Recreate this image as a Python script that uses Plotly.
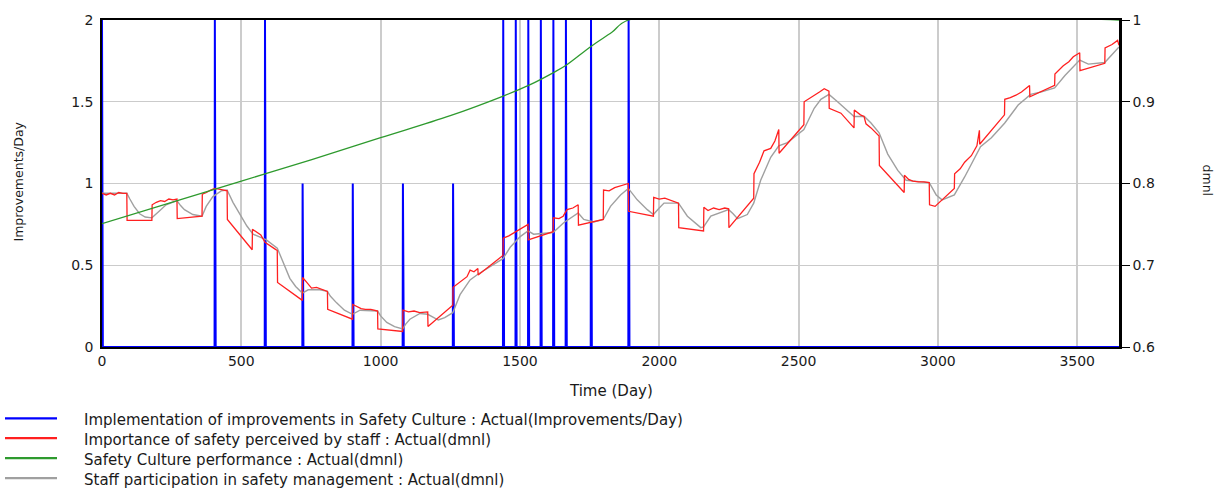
import plotly.graph_objects as go

# ---------------------------------------------------------------- data
horizon_days = 3650

# Implementation of improvements in Safety Culture (Improvements/Day):
# days on which improvements are implemented and how many
impl_days = [0, 405, 585, 720, 900, 1080, 1260, 1440, 1485, 1530, 1575, 1620, 1665, 1755, 1890]
impl_counts = [2, 2, 2, 1, 1, 1, 1, 2, 2, 2, 2, 2, 2, 2, 2]

# Importance of safety perceived by staff (dmnl)
perceived_days = [
    0, 15, 30, 45, 60, 75, 89, 90, 179, 180, 195, 210, 225, 240, 255, 269, 270, 359, 360, 375,
    390, 405, 420, 440, 449, 450, 539, 540, 555, 570, 585, 600, 620, 629, 630, 719, 720, 735, 752, 770,
    790, 809, 810, 899, 900, 915, 930, 945, 965, 989, 990, 1079, 1080, 1100, 1120, 1140, 1169, 1170, 1259, 1260,
    1280, 1297, 1310, 1321, 1335, 1349, 1350, 1439, 1440, 1460, 1480, 1500, 1529, 1530, 1619, 1620, 1640, 1655, 1669, 1690,
    1709, 1710, 1799, 1800, 1820, 1840, 1860, 1889, 1890, 1979, 1980, 2000, 2020, 2045, 2069, 2070, 2159, 2160, 2175, 2195,
    2215, 2235, 2249, 2250, 2339, 2340, 2360, 2376, 2400, 2415, 2429, 2430, 2519, 2520, 2540, 2560, 2575, 2592, 2609, 2610,
    2652, 2699, 2700, 2722, 2735, 2742, 2760, 2789, 2790, 2879, 2880, 2895, 2910, 2930, 2950, 2969, 2970, 2990, 3059, 3060,
    3080, 3096, 3120, 3140, 3149, 3150, 3239, 3240, 3260, 3280, 3300, 3329, 3330, 3419, 3420, 3450, 3470, 3486, 3509, 3510,
    3599, 3600, 3625, 3645, 3650,
]
perceived_values = [
    0.788, 0.786, 0.788, 0.786, 0.789, 0.788, 0.788, 0.755, 0.755, 0.774, 0.777, 0.779, 0.778, 0.781, 0.780, 0.781, 0.757, 0.760, 0.787, 0.789,
    0.792, 0.794, 0.793, 0.792, 0.791, 0.756, 0.719, 0.744, 0.741, 0.737, 0.728, 0.725, 0.720, 0.718, 0.679, 0.657, 0.685, 0.679, 0.672, 0.673,
    0.670, 0.668, 0.646, 0.634, 0.652, 0.649, 0.647, 0.646, 0.646, 0.644, 0.622, 0.619, 0.645, 0.643, 0.644, 0.642, 0.643, 0.625, 0.651, 0.673,
    0.678, 0.682, 0.686, 0.694, 0.692, 0.696, 0.688, 0.712, 0.733, 0.736, 0.740, 0.744, 0.750, 0.731, 0.741, 0.758, 0.757, 0.760, 0.768, 0.770,
    0.774, 0.749, 0.756, 0.792, 0.791, 0.795, 0.797, 0.800, 0.766, 0.760, 0.783, 0.781, 0.782, 0.779, 0.776, 0.746, 0.742, 0.771, 0.767, 0.770,
    0.768, 0.770, 0.769, 0.746, 0.782, 0.812, 0.826, 0.840, 0.843, 0.852, 0.866, 0.837, 0.872, 0.900, 0.904, 0.908, 0.912, 0.916, 0.913, 0.892,
    0.886, 0.868, 0.890, 0.884, 0.882, 0.873, 0.868, 0.858, 0.822, 0.789, 0.810, 0.805, 0.803, 0.802, 0.802, 0.801, 0.774, 0.772, 0.794, 0.812,
    0.818, 0.826, 0.834, 0.846, 0.865, 0.848, 0.884, 0.903, 0.905, 0.908, 0.912, 0.920, 0.906, 0.920, 0.934, 0.944, 0.949, 0.955, 0.960, 0.938,
    0.947, 0.966, 0.970, 0.975, 0.969,
]

# Safety Culture performance (dmnl)
performance_days = [0, 250, 500, 750, 1000, 1250, 1440, 1531, 1622, 1667, 1756, 1830, 1890, 3650]
performance_values = [0.751, 0.777, 0.803, 0.829, 0.856, 0.883, 0.907, 0.920, 0.936, 0.945, 0.968, 0.985, 1.0, 1.0]

# Staff participation in safety management (dmnl)
participation_days = [
    0, 89, 100, 115, 135, 155, 179, 190, 205, 230, 250, 269, 282, 296, 326, 359, 374, 398, 428, 449,
    470, 493, 520, 542, 590, 629, 640, 650, 674, 695, 719, 740, 782, 809, 820, 842, 870, 899, 926, 989,
    1000, 1022, 1050, 1079, 1090, 1105, 1141, 1169, 1190, 1207, 1230, 1259, 1285, 1321, 1349, 1390, 1439, 1465, 1501, 1529,
    1549, 1619, 1640, 1657, 1709, 1729, 1765, 1799, 1825, 1861, 1889, 1921, 1957, 1979, 2000, 2017, 2069, 2080, 2101, 2149,
    2159, 2185, 2249, 2265, 2281, 2316, 2339, 2364, 2400, 2429, 2460, 2519, 2556, 2580, 2609, 2640, 2699, 2736, 2760, 2789,
    2820, 2856, 2886, 2940, 2969, 2994, 3015, 3059, 3096, 3153, 3192, 3240, 3288, 3333, 3372, 3419, 3456, 3509, 3540, 3599,
    3650,
]
participation_values = [
    0.788, 0.788, 0.781, 0.772, 0.763, 0.759, 0.758, 0.761, 0.766, 0.774, 0.777, 0.779, 0.773, 0.768, 0.762, 0.760, 0.772, 0.784, 0.791, 0.792,
    0.777, 0.764, 0.748, 0.738, 0.731, 0.721, 0.712, 0.702, 0.684, 0.674, 0.666, 0.670, 0.670, 0.668, 0.662, 0.654, 0.645, 0.640, 0.645, 0.644,
    0.638, 0.630, 0.625, 0.622, 0.628, 0.634, 0.641, 0.640, 0.636, 0.633, 0.636, 0.642, 0.664, 0.682, 0.689, 0.698, 0.708, 0.722, 0.735, 0.742,
    0.738, 0.740, 0.746, 0.752, 0.764, 0.756, 0.753, 0.756, 0.772, 0.786, 0.794, 0.780, 0.768, 0.762, 0.770, 0.776, 0.776, 0.770, 0.760, 0.746,
    0.747, 0.760, 0.768, 0.763, 0.757, 0.762, 0.776, 0.804, 0.832, 0.846, 0.850, 0.866, 0.892, 0.903, 0.909, 0.900, 0.882, 0.882, 0.874, 0.862,
    0.836, 0.816, 0.804, 0.802, 0.801, 0.786, 0.780, 0.786, 0.808, 0.845, 0.856, 0.874, 0.896, 0.909, 0.912, 0.917, 0.932, 0.951, 0.946, 0.948,
    0.967,
]

series_names = [
    "Implementation of improvements in Safety Culture : Actual(Improvements/Day)",
    "Importance of safety perceived by staff : Actual(dmnl)",
    "Safety Culture performance : Actual(dmnl)",
    "Staff participation in safety management : Actual(dmnl)",
]
series_colors = ["#0000ff", "#ff2020", "#2e9a2e", "#a0a0a0"]

left_ticks = [0, 0.5, 1, 1.5, 2]
right_ticks = [0.6, 0.7, 0.8, 0.9, 1]
time_ticks = [0, 500, 1000, 1500, 2000, 2500, 3000, 3500]

# ---------------------------------------------------------------- layout geometry
W, H = 1220, 490
ML, MR, MT, MB = 102, 101, 13, 143
PW, PH = W - ML - MR, H - MT - MB
FONT = "DejaVu Sans"
TXT = "#1a1a1a"


def xp(px):
    return (px - ML) / PW


def yp(py):
    return (H - MB - py) / PH


# daily series of implemented improvements
impl_x = list(range(horizon_days + 1))
impl_y = [0] * (horizon_days + 1)
for d, c in zip(impl_days, impl_counts):
    impl_y[d] = c

fig = go.Figure()

fig.add_trace(go.Scatter(
    x=participation_days, y=participation_values, yaxis="y2", mode="lines",
    line=dict(color=series_colors[3], width=1.4), name=series_names[3], showlegend=False,
))
fig.add_trace(go.Scatter(
    x=perceived_days, y=perceived_values, yaxis="y2", mode="lines",
    line=dict(color=series_colors[1], width=1.3), name=series_names[1], showlegend=False,
))
fig.add_trace(go.Scatter(
    x=performance_days, y=performance_values, yaxis="y2", mode="lines", line_shape="spline",
    line=dict(color=series_colors[2], width=1.3), name=series_names[2], showlegend=False,
))
fig.add_trace(go.Scatter(
    x=impl_x, y=impl_y, mode="lines",
    line=dict(color=series_colors[0], width=2.0), name=series_names[0], showlegend=False,
))

axis_font = dict(family=FONT, size=14, color=TXT)

fig.update_layout(
    width=W, height=H,
    margin=dict(l=ML, r=MR, t=MT, b=MB, pad=0),
    paper_bgcolor="white", plot_bgcolor="white",
    xaxis=dict(
        range=[0, horizon_days], tickvals=time_ticks, ticks="", showgrid=True,
        gridcolor="#cccccc", gridwidth=1.6, zeroline=False,
        showline=True, linecolor="black", linewidth=1.5, mirror=True, layer="below traces",
        tickfont=axis_font, ticklabelstandoff=0,
    ),
    yaxis=dict(
        range=[0, 2], tickvals=left_ticks, ticks="", showgrid=True,
        gridcolor="#cbcbcb", gridwidth=1.3, zeroline=False,
        showline=True, linecolor="black", linewidth=1.5, layer="below traces",
        tickfont=axis_font, ticklabelstandoff=4,
    ),
    yaxis2=dict(
        range=[0.6, 1], tickvals=right_ticks, overlaying="y", side="right",
        showgrid=False, zeroline=False, showline=True, linecolor="black", linewidth=2.5,
        ticks="outside", ticklen=8, tickwidth=1.3, tickcolor="black",
        layer="below traces", tickfont=axis_font,
    ),
    showlegend=False,
)

annotations = [
    dict(text="Time (Day)", x=xp(611), y=yp(392), xref="paper", yref="paper",
         showarrow=False, xanchor="center", yanchor="middle",
         font=dict(family=FONT, size=15, color=TXT)),
    dict(text="Improvements/Day", x=xp(19), y=yp(178), xref="paper", yref="paper",
         showarrow=False, xanchor="center", yanchor="middle", textangle=-90,
         font=dict(family=FONT, size=12.5, color=TXT)),
    dict(text="dmnl", x=xp(1207), y=yp(177), xref="paper", yref="paper",
         showarrow=False, xanchor="center", yanchor="middle", textangle=90,
         font=dict(family=FONT, size=12.5, color=TXT)),
]

# legend drawn below the plot: colour key line plus series label
shapes = []
legend_rows = [420, 440, 460.5, 481]
for name, color, row in zip(series_names, series_colors, legend_rows):
    shapes.append(dict(type="line", xref="paper", yref="paper",
                       x0=xp(5), x1=xp(57), y0=yp(row), y1=yp(row),
                       line=dict(color=color, width=2.2)))
    annotations.append(dict(text=name, x=xp(82), y=yp(row + 2), xref="paper", yref="paper",
                            showarrow=False, xanchor="left", yanchor="middle",
                            font=dict(family=FONT, size=15, color=TXT)))

fig.update_layout(annotations=annotations, shapes=shapes)

fig.write_html("out.html")
